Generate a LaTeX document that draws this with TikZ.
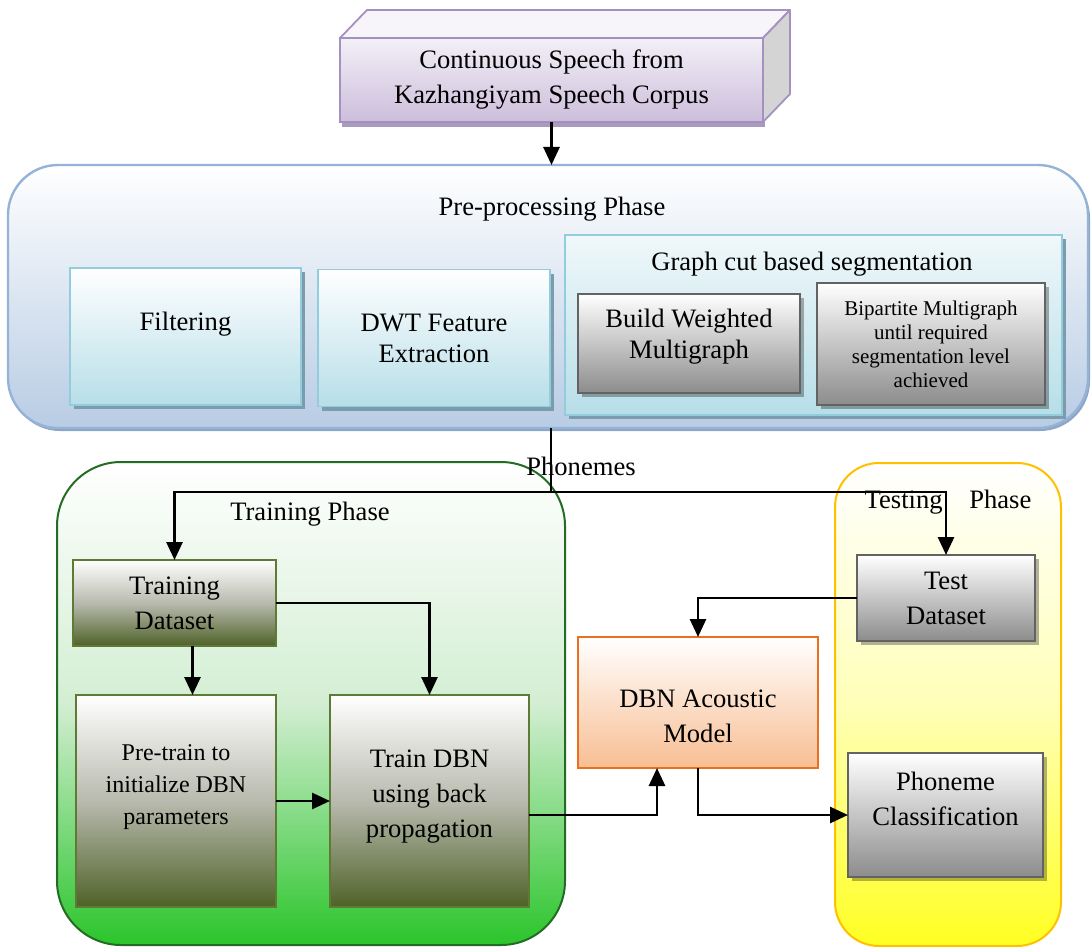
\documentclass[tikz,border=0pt]{standalone}
\usepackage{fontspec}
\setmainfont{Liberation Serif}
\usetikzlibrary{arrows.meta,shadows}

\definecolor{srcBorder}{HTML}{A690C0}
\definecolor{srcTopFill}{HTML}{F7F4FA}
\definecolor{srcHigh}{HTML}{F3F0F7}
\definecolor{srcLow}{HTML}{CCBEDB}
\definecolor{srcSide}{HTML}{D4D4D4}
\definecolor{srcShadow}{HTML}{A99BBE}
\definecolor{preBorder}{HTML}{95B3D7}
\definecolor{preLow}{HTML}{B8CCE4}
\definecolor{preShadow}{HTML}{8EA6C6}
\definecolor{cyanBorder}{HTML}{93CDDD}
\definecolor{cyanLow}{HTML}{B7DEE8}
\definecolor{cyanTop}{HTML}{F0F8FA}
\definecolor{cyanShadow}{HTML}{7B9CAC}
\definecolor{grayBorder}{HTML}{636363}
\definecolor{grayLow}{HTML}{8C8C8C}
\definecolor{greenBorder}{HTML}{246B24}
\definecolor{greenMid}{HTML}{D3EED3}
\definecolor{greenLow}{HTML}{2BC52B}
\definecolor{oliveBorder}{HTML}{5F7A35}
\definecolor{oliveMid}{HTML}{B8BAAE}
\definecolor{oliveLow}{HTML}{4F6228}
\definecolor{orangeBorder}{HTML}{E8701E}
\definecolor{orangeLow}{HTML}{F8BE93}
\definecolor{yellowBorder}{HTML}{FFC000}
\definecolor{yellowMid}{HTML}{FFFFB8}
\definecolor{yellowLow}{HTML}{FFFF22}

\tikzset{
  sz/.style 2 args={minimum width=#1*0.5pt, minimum height=#2*0.5pt},
  box/.style={draw, line width=0.9pt, align=center, inner sep=1pt, outer sep=0pt},
  srcface/.style={box, draw=srcBorder, top color=srcHigh, bottom color=srcLow,
    drop shadow={shadow xshift=1pt, shadow yshift=-2.5pt, fill=srcShadow, opacity=1}},
  srcedge/.style={draw=srcBorder, line width=0.9pt, line join=round},
  prebox/.style={draw=preBorder, line width=1.2pt, rounded corners=25pt, outer sep=0pt,
    top color=white, bottom color=preLow,
    drop shadow={shadow xshift=1pt, shadow yshift=-1.5pt, fill=preShadow, opacity=1}},
  cyanbox/.style={box, draw=cyanBorder, top color=white, bottom color=cyanLow,
    drop shadow={shadow xshift=2pt, shadow yshift=-2pt, fill=cyanShadow, opacity=1}},
  gcutbox/.style={box, draw=cyanBorder, top color=cyanTop, bottom color=cyanLow,
    drop shadow={shadow xshift=2pt, shadow yshift=-2pt, fill=cyanShadow, opacity=1}},
  graybox/.style={box, draw=grayBorder, top color=white, bottom color=grayLow,
    drop shadow={shadow xshift=2pt, shadow yshift=-2pt, fill=black, opacity=0.3}},
  greenbox/.style={draw=greenBorder, line width=1pt, rounded corners=32pt, outer sep=0pt,
    top color=white, bottom color=greenLow, middle color=greenMid},
  olivebox/.style={box, draw=oliveBorder, top color=white, bottom color=oliveLow, middle color=oliveMid},
  orangebox/.style={box, draw=orangeBorder, top color=white, bottom color=orangeLow},
  yellowbox/.style={draw=yellowBorder, line width=1pt, rounded corners=22pt, outer sep=0pt,
    top color=white, bottom color=yellowLow, middle color=yellowMid},
  link/.style={line width=1.4pt, black},
  arr/.style={link, -{Triangle[length=9pt,width=8pt]}},
  small/.style={font=\fontsize{10.5}{12}\selectfont},
  medium/.style={font=\fontsize{12}{16}\selectfont},
  tight/.style={font=\fontsize{13.3}{15.5}\selectfont}
}

\begin{document}
\begin{tikzpicture}[x=0.5pt, y=-0.5pt, font=\fontsize{13.3}{17.5}\selectfont]
\useasboundingbox (0,0) rectangle (1092,947);

% ---- speech corpus source (3D block) ----
\node[srcface, sz={423}{84}] (src) at (551.5,80) {Continuous Speech from\\Kazhangiyam Speech Corpus};
\draw[srcedge, fill=srcTopFill] (src.north west) -- ++(27,-28) -- ([shift={(27,-28)}]src.north east) -- (src.north east) -- cycle;
\draw[srcedge, fill=srcSide] (src.north east) -- ++(27,-28) -- ++(0,84) -- (src.south east) -- cycle;

% ---- pre-processing phase ----
\node[prebox, sz={1080}{263}] (pre) at (548,296.5) {};
\node (pretitle) at (552,209) {Pre-processing Phase};
\node[cyanbox, sz={231}{137}] (filt) at (185.5,336.5) {Filtering\\[-8pt]\strut};
\node[cyanbox, tight, sz={232}{137}] (dwt) at (434,338) {DWT Feature\\Extraction};
\node[gcutbox, sz={497}{180}] (gcut) at (813.5,325) {};
\node (gtitle) at (812,264) {Graph cut based segmentation};
\node[graybox, tight, sz={222}{99}] (bwm) at (689,343.5) {Build Weighted\\Multigraph\\[-10pt]\strut};
\node[graybox, small, sz={228}{122}] (bip) at (931,344) {Bipartite Multigraph\\until required\\segmentation level\\achieved};

% ---- phase containers ----
\node[greenbox, sz={508}{483}] (trainbox) at (311,703.5) {};
\node (traintitle) at (310,514) {Training Phase};
\node[yellowbox, sz={226}{483}] (testbox) at (948,704.5) {};
\node (testtitle) at (948,502) {Testing\hspace{1em}Phase};

% ---- training phase ----
\node[olivebox, sz={203}{86}] (tds) at (174.5,603) {Training\\Dataset};
\node[olivebox, medium, sz={200}{212}] (ptr) at (176,801) {Pre-train to\\initialize DBN\\parameters\\[-4.5pt]\strut};
\node[olivebox, sz={199}{212}] (tdbn) at (429.5,801) {Train DBN\\using back\\propagation\\[-15pt]\strut};

% ---- acoustic model ----
\node[orangebox, sz={240}{131}] (dbn) at (698,702.5) {\strut\\[-7pt]DBN Acoustic\\Model};

% ---- testing phase ----
\node[graybox, sz={178}{86}] (tst) at (946,598) {Test\\Dataset};
\node[graybox, sz={195}{124}] (pc) at (945.5,815) {Phoneme\\Classification\\[-7pt]\strut};

% ---- connectors ----
\draw[arr] (src.south) -- (src.south |- pre.north);
\coordinate (split) at (551,492);
\draw[link] (split |- pre.south) -- (split);
\node (phon) at (581,466) {Phonemes};
\draw[arr] (split) -| (tds.north);
\draw[arr] (split) -| (tst.north);
\draw[arr] ([xshift=9pt]tds.south) -- ([xshift=9pt]tds.south |- ptr.north);
\draw[arr] (tds.east) -| (tdbn.north);
\draw[arr] (ptr.east) -- (tdbn.west);
\draw[arr] ([yshift=-7pt]tdbn.east) -| ([xshift=-20.5pt]dbn.south);
\draw[arr] (tst.west) -| (dbn.north);
\draw[arr] (dbn.south) |- (pc.west);
\end{tikzpicture}
\end{document}
